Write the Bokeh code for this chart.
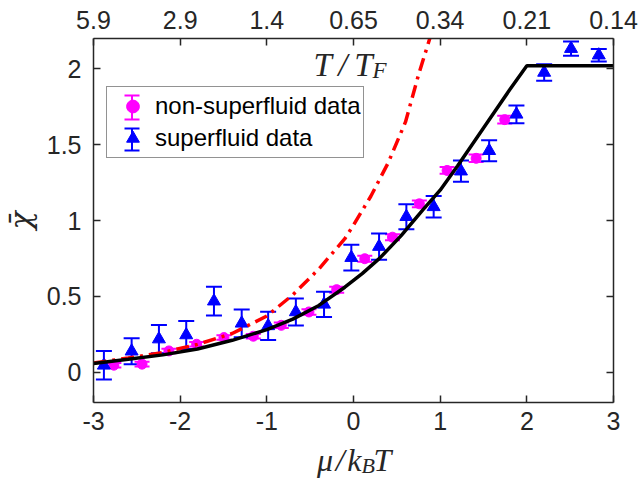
import math
from bokeh.plotting import figure
from bokeh.core.properties import value
from bokeh.models import (ColumnDataSource, Whisker, TeeHead, LinearAxis, FixedTicker,
                          Range1d, Legend, LegendItem)
from bokeh.embed import file_html
from bokeh.resources import INLINE

# ---------------- data ----------------
# theory curve (black, solid)
theory_mu = [-3.0, -2.6, -2.2, -1.8, -1.4, -1.0, -0.7, -0.4, -0.1, 0.1, 0.3, 0.55, 0.8, 1.0, 1.2, 1.5, 1.8, 2.0, 3.0]
theory_chi = [0.057, 0.085, 0.114, 0.153, 0.21, 0.28, 0.35, 0.44, 0.56, 0.65, 0.75, 0.90, 1.07, 1.20, 1.36, 1.61, 1.86, 2.02, 2.02]

# ideal Fermi gas curve (red, dash-dot)
ideal_mu = [-3.0, -2.6, -2.2, -1.8, -1.4, -1.0, -0.7, -0.4, -0.1, 0.0, 0.2, 0.4, 0.6, 0.75, 0.88]
ideal_chi = [0.06, 0.093, 0.13, 0.183, 0.255, 0.37, 0.51, 0.68, 0.88, 0.97, 1.16, 1.38, 1.65, 1.96, 2.2]

# non-superfluid data (magenta circles)
ns_mu = [-2.765, -2.44, -2.13, -1.81, -1.495, -1.156, -0.833, -0.514, -0.194, 0.13, 0.45, 0.76, 1.08, 1.415, 1.745]
ns_chi = [0.046, 0.053, 0.14, 0.184, 0.228, 0.237, 0.309, 0.397, 0.544, 0.748, 0.89, 1.11, 1.33, 1.41, 1.665]
ns_err = [0.015, 0.015, 0.015, 0.015, 0.015, 0.015, 0.018, 0.018, 0.02, 0.02, 0.02, 0.022, 0.022, 0.025, 0.025]

# superfluid data (blue triangles)
sf_mu = [-2.88, -2.56, -2.245, -1.93, -1.61, -1.29, -0.985, -0.665, -0.34, -0.025, 0.295, 0.61, 0.925, 1.24, 1.565, 1.88, 2.20, 2.51, 2.83]
sf_chi = [0.045, 0.138, 0.218, 0.245, 0.468, 0.322, 0.305, 0.397, 0.447, 0.755, 0.828, 1.025, 1.09, 1.325, 1.46, 1.70, 1.976, 2.133, 2.09]
sf_err = [0.094, 0.086, 0.093, 0.093, 0.095, 0.091, 0.093, 0.089, 0.083, 0.085, 0.086, 0.082, 0.071, 0.07, 0.069, 0.058, 0.054, 0.047, 0.041]

# axis ticks
x_ticks = [-3, -2, -1, 0, 1, 2, 3]
x_tick_labels = ["-3", "-2", "-1", "0", "1", "2", "3"]
tf_tick_labels = ["5.9", "2.9", "1.4", "0.65", "0.34", "0.21", "0.14"]
y_ticks = [0, 0.5, 1, 1.5, 2]
y_tick_labels = ["0", "0.5", "1", "1.5", "2"]

# ---------------- layout ----------------
W, H = 639, 478
BL, BR, BT, BB = 93, 26, 38, 76
XMIN, XMAX, YMIN, YMAX = -3, 3, -0.2, 2.2
AX = "#262626"
SANS = "Liberation Sans"
SERIF = "Liberation Serif"
MAGENTA, BLUE = "#FF00FF", "#0000FF"
BASE_SHIFT = 11  # alphabetic-baseline correction of the text glyph (px)


def dx(px):
    return XMIN + (px - BL) * (XMAX - XMIN) / (W - BL - BR)


def dy(py):
    return YMAX - (py - BT) * (YMAX - YMIN) / (H - BT - BB)


p = figure(width=W, height=H, x_range=Range1d(XMIN, XMAX), y_range=Range1d(YMIN, YMAX),
           output_backend="svg", toolbar_location=None,
           min_border_left=BL, min_border_right=BR, min_border_top=BT, min_border_bottom=BB)
p.xgrid.visible = False
p.ygrid.visible = False
p.outline_line_color = None
p.background_fill_color = "white"
p.border_fill_color = "white"


def style_axis(ax, standoff):
    ax.axis_line_color = AX
    ax.axis_line_width = 1.5
    ax.major_tick_line_color = AX
    ax.major_tick_line_width = 1.5
    ax.major_tick_in = 7
    ax.major_tick_out = 0
    ax.minor_tick_line_color = None
    ax.major_label_text_font = SANS
    ax.major_label_text_font_size = "25px"
    ax.major_label_text_color = AX
    ax.major_label_standoff = standoff


xb = p.xaxis[0]
xb.ticker = FixedTicker(ticks=x_ticks)
xb.major_label_overrides = {t: s for t, s in zip(x_ticks, x_tick_labels)}
style_axis(xb, 9)

yl = p.yaxis[0]
yl.ticker = FixedTicker(ticks=y_ticks)
yl.major_label_overrides = {t: s for t, s in zip(y_ticks, y_tick_labels)}
style_axis(yl, 12)

xt = LinearAxis(ticker=FixedTicker(ticks=x_ticks),
                major_label_overrides={t: s for t, s in zip(x_ticks, tf_tick_labels)})
style_axis(xt, 10)
p.add_layout(xt, "above")

yr = LinearAxis(ticker=FixedTicker(ticks=y_ticks),
                major_label_overrides={t: "" for t in y_ticks})
style_axis(yr, 0)
p.add_layout(yr, "right")

# ---------------- legend icons (error bars, under the legend) ----------------
LEG_LEFT, LEG_BOTTOM, GW = 106, 158, 45
icon_x = LEG_LEFT + 3 + GW / 2
CAP = 7.5
for col, top, bot in [(MAGENTA, 95, 119), (BLUE, 128, 150)]:
    p.segment(x0=[dx(icon_x), dx(icon_x - CAP), dx(icon_x - CAP)],
              y0=[dy(top), dy(top), dy(bot)],
              x1=[dx(icon_x), dx(icon_x + CAP), dx(icon_x + CAP)],
              y1=[dy(bot), dy(top), dy(bot)],
              line_color=col, line_width=2)

# ---------------- error bars ----------------
ns_src = ColumnDataSource(dict(x=ns_mu, y=ns_chi,
                               lo=[v - e for v, e in zip(ns_chi, ns_err)],
                               hi=[v + e for v, e in zip(ns_chi, ns_err)]))
sf_src = ColumnDataSource(dict(x=sf_mu, y=sf_chi,
                               lo=[v - e for v, e in zip(sf_chi, sf_err)],
                               hi=[v + e for v, e in zip(sf_chi, sf_err)]))

for src, col, cap in [(ns_src, MAGENTA, 15), (sf_src, BLUE, 16)]:
    w = Whisker(source=src, base="x", lower="lo", upper="hi", dimension="height",
                line_color=col, line_width=2,
                upper_head=TeeHead(size=cap, line_color=col, line_width=2),
                lower_head=TeeHead(size=cap, line_color=col, line_width=2))
    p.add_layout(w)

r_ns = p.scatter("x", "y", source=ns_src, marker="circle", size=10,
                 fill_color=MAGENTA, line_color=MAGENTA)
r_sf = p.scatter("x", "y", source=sf_src, marker="triangle", size=13,
                 fill_color=BLUE, line_color=BLUE)

# ---------------- curves ----------------
p.line(ideal_mu, ideal_chi, line_color="#FF0000", line_width=3.5, line_dash="13 6 3 6")
p.line(theory_mu, theory_chi, line_color="black", line_width=3.5)

# ---------------- legend ----------------
legend = Legend(items=[LegendItem(label="non-superfluid data", renderers=[r_ns]),
                       LegendItem(label="superfluid data", renderers=[r_sf])],
                location=(LEG_LEFT - BL, (H - BB) - LEG_BOTTOM), padding=3, margin=0, spacing=0,
                glyph_width=GW, glyph_height=32, label_standoff=0,
                label_text_font=SANS, label_text_font_size="24px", label_text_color="black",
                border_line_color=AX, border_line_width=1.5,
                background_fill_alpha=0.0)
p.add_layout(legend, "center")


# ---------------- axis titles (math-like, real text) ----------------
def math_text(texts, pxs, pys, size, align="left", angle=0.0, baseline="alphabetic",
              font=SERIF):
    shift = BASE_SHIFT if baseline == "alphabetic" else 0
    p.text(x=[dx(v) for v in pxs], y=[dy(v - shift) for v in pys], text=texts,
           text_font=value(font), text_font_style="italic", text_font_size=size,
           text_color=AX, text_align=align, text_baseline=baseline, angle=angle,
           level="overlay")


# x title  mu/k_B T
math_text(["μ\u200a/\u200ak"], [361], [470], "32px", align="right")
math_text(["T"], [373], [470], "32px")
math_text(["B"], [361], [476], "22px")

# top title  T/T_F
math_text(["T\u2009/\u2009T"], [372], [75], "33px", align="right")
math_text(["F"], [372], [81], "23px")

# y title  chi-bar (rotated)
math_text(["χ̄"], [20], [220], "30px", align="center", angle=math.pi / 2, baseline="middle",
          font="DejaVu Serif")

open("out.html", "w").write(file_html(p, INLINE))
